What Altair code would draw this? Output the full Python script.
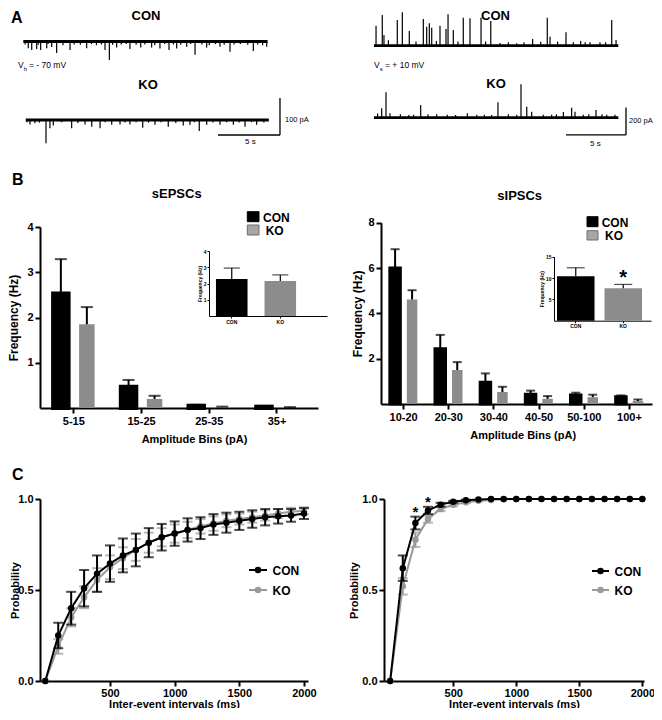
import altair as alt
import pandas as pd

FONT = "Liberation Sans"
GRAY_BAR = "#8c8c8c"
GRAY_LINE = "#9a9a9a"
GROUPS = ["CON", "KO"]
GROUP_COLORS = ["#000000", GRAY_BAR]

# ================= A : example recordings (event time in s, amplitude in pA) =================
epsc_con_t = [0.40, 0.68, 1.08, 1.40, 1.89, 2.29, 2.69, 3.77, 5.11, 6.59, 6.94, 7.53, 8.60,
              9.47, 10.35, 11.02, 11.75, 12.37, 13.18, 13.85, 14.79, 15.86, 16.67, 18.55, 19.63]
epsc_con_amp = [-18, -23, -20, -23, -18, -15, -31, -23, -18, -23, -50, -16, -20,
                -16, -16, -19, -23, -19, -14, -36, -16, -14, -28, -26, -14]
epsc_con_small_t = [0.15, 1.2, 2.0, 3.2, 4.1, 4.6, 5.5, 5.9, 6.3, 7.2, 7.9, 8.3, 9.1, 9.8,
                    10.6, 11.4, 12.1, 12.7, 13.5, 14.4, 15.0, 15.5, 16.2, 17.0, 17.5, 18.1, 18.9, 19.3]
epsc_con_small_amp = [-8, -9, -7, -10, -8, -9, -7, -10, -8, -9, -8, -7, -9, -8,
                      -10, -7, -8, -9, -7, -8, -10, -7, -9, -8, -7, -9, -8, -10]

epsc_ko_t = [0.54, 0.94, 1.83, 2.15, 2.42, 3.90, 4.98, 5.52, 6.19, 7.13, 7.80, 8.60, 9.63,
             10.62, 11.69, 12.90, 13.44, 14.19, 14.79, 15.86, 16.94, 17.88, 18.82]
epsc_ko_amp = [-12, -9, -63, -22, -15, -22, -12, -18, -22, -13, -12, -12, -21,
               -13, -18, -15, -13, -30, -13, -13, -13, -18, -13]
epsc_ko_small_t = [0.3, 1.3, 3.1, 4.4, 6.6, 8.2, 9.1, 10.1, 11.1, 12.3, 13.8, 15.3, 16.4, 17.4, 18.4, 19.4]
epsc_ko_small_amp = [-6, -7, -6, -8, -6, -7, -6, -7, -6, -8, -6, -7, -6, -7, -6, -7]

ipsc_con_t = [0.17, 0.69, 0.83, 1.94, 2.36, 2.94, 4.11, 4.39, 4.61, 4.81, 5.5, 6.0, 6.17, 6.61, 7.44,
              8.0, 8.92, 9.73, 11.89, 13.22, 13.89, 14.44, 14.67, 16.0, 16.61, 17.22, 18.0, 18.83, 19.81, 20.17]
ipsc_con_amp = [146, 224, 78, 188, 244, 107, 195, 139, 164, 131, 146, 122, 229, 115, 204,
                200, 204, 180, 18, 49, 29, 204, 66, 98, 25, 34, 25, 25, 188, 42]
ipsc_con_small_t = [1.2, 3.5, 5.2, 7.0, 9.3, 10.5, 11.2, 12.5, 15.3, 17.6, 19.3]
ipsc_con_small_amp = [40, 30, 35, 30, 30, 20, 25, 25, 30, 25, 25]

ipsc_ko_t = [0.64, 1.0, 1.33, 3.89, 5.22, 6.11, 7.78, 8.56, 10.33, 11.89, 12.25, 12.73, 13.14,
             14.11, 15.78, 16.47, 16.75, 17.44, 18.5, 19.39, 20.08]
ipsc_ko_amp = [69, 185, 32, 93, 25, 22, 32, 22, 112, 22, 244, 80, 44,
               22, 42, 73, 44, 22, 56, 22, 22]
ipsc_ko_small_t = [0.3, 2.2, 2.9, 3.3, 4.5, 6.8, 9.2, 9.8, 11.2, 14.8, 15.2, 17.9, 19.0]
ipsc_ko_small_amp = [30, 25, 20, 22, 25, 20, 22, 20, 25, 22, 25, 25, 25]

epsc_con_span = [0.0, 19.7]
epsc_ko_span = [0.2, 19.8]
ipsc_con_span = [0.0, 20.36]
ipsc_ko_span = [0.0, 20.36]
epsc_scalebar_s = [15.7, 20.7]      # 5 s
epsc_scalebar_pA = [-40.5, 59.5]    # 100 pA
ipsc_scalebar_s = [16.0, 21.0]      # 5 s
ipsc_scalebar_pA = [-126.0, 74.0]   # 200 pA

# ================= B : amplitude distributions =================
epsc_bins = ["5-15", "15-25", "25-35", "35+"]
epsc_con = [2.53, 0.47, 0.05, 0.03]
epsc_con_sem = [0.76, 0.15, 0.02, 0.01]
epsc_ko = [1.85, 0.20, 0.02, 0.01]
epsc_ko_sem = [0.38, 0.07, 0.01, 0.01]
epsc_total = [2.28, 2.16]
epsc_total_sem = [0.67, 0.37]
epsc_total_sig = []

ipsc_bins = ["10-20", "20-30", "30-40", "40-50", "50-100", "100+"]
ipsc_con = [6.0, 2.44, 0.96, 0.43, 0.40, 0.32]
ipsc_con_sem = [0.83, 0.61, 0.39, 0.16, 0.10, 0.06]
ipsc_ko = [4.61, 1.50, 0.53, 0.23, 0.30, 0.13]
ipsc_ko_sem = [0.41, 0.35, 0.23, 0.12, 0.11, 0.07]
ipsc_total = [10.4, 7.6]
ipsc_total_sem = [2.0, 0.9]
ipsc_total_sig = ["KO"]

# ================= C : cumulative inter-event intervals =================
iei_ms = [0, 100, 200, 300, 400, 500, 600, 700, 800, 900, 1000,
          1100, 1200, 1300, 1400, 1500, 1600, 1700, 1800, 1900, 2000]
cl_con = [0, 0.25, 0.40, 0.51, 0.59, 0.645, 0.69, 0.72, 0.76, 0.79, 0.81,
          0.83, 0.84, 0.86, 0.87, 0.88, 0.89, 0.90, 0.905, 0.91, 0.92]
cl_con_sem = [0, 0.07, 0.09, 0.10, 0.10, 0.10, 0.093, 0.09, 0.08, 0.073, 0.067,
              0.064, 0.06, 0.057, 0.055, 0.05, 0.048, 0.045, 0.04, 0.035, 0.03]
cl_ko = [0, 0.19, 0.35, 0.46, 0.555, 0.625, 0.675, 0.72, 0.76, 0.79, 0.81,
         0.83, 0.85, 0.865, 0.88, 0.89, 0.90, 0.91, 0.92, 0.93, 0.935]
cl_ko_sem = [0, 0.04, 0.05, 0.06, 0.065, 0.065, 0.06, 0.06, 0.055, 0.05, 0.05,
             0.045, 0.04, 0.04, 0.035, 0.03, 0.03, 0.028, 0.025, 0.022, 0.02]
cr_con = [0, 0.62, 0.868, 0.937, 0.969, 0.985, 0.993, 0.997, 1.0, 1.0, 1.0,
          1.0, 1.0, 1.0, 1.0, 1.0, 1.0, 1.0, 1.0, 1.0, 1.0]
cr_con_sem = [0, 0.07, 0.035, 0.02, 0.01, 0.005, 0.003, 0, 0, 0, 0,
              0, 0, 0, 0, 0, 0, 0, 0, 0, 0]
cr_ko = [0, 0.52, 0.776, 0.89, 0.945, 0.968, 0.982, 0.99, 0.995, 0.998, 1.0,
         1.0, 1.0, 1.0, 1.0, 1.0, 1.0, 1.0, 1.0, 1.0, 1.0]
cr_ko_sem = [0, 0.045, 0.04, 0.02, 0.012, 0.008, 0.005, 0.003, 0, 0, 0,
             0, 0, 0, 0, 0, 0, 0, 0, 0, 0]
cl_sig = []
cr_sig = [200, 300]


def txt(s, x, y, size, weight="bold", align="left", baseline="alphabetic"):
    return alt.Chart(pd.DataFrame({"s": [s]})).mark_text(
        font=FONT, fontSize=size, fontWeight=weight, align=align, baseline=baseline, color="black"
    ).encode(x=alt.value(x), y=alt.value(y), text="s:N")


def rect(x1, x2, y1, y2, fill, stroke):
    return alt.Chart(pd.DataFrame({"k": [0]})).mark_rect(fill=fill, stroke=stroke, strokeWidth=1).encode(
        x=alt.value(x1), x2=alt.value(x2), y=alt.value(y1), y2=alt.value(y2))


# ---------------- A cells ----------------
def trace_cell(con_t, con_amp, ko_t, ko_amp, con_span, ko_span, x_range, y_dom,
               con_rng, ko_rng, sb_s, sb_v, texts, width, height):
    xs = alt.Scale(domain=[0, 20], range=x_range, nice=False, zero=False)

    def ys(rng):
        return alt.Scale(domain=y_dom, range=rng, nice=False, zero=False)

    layers = []
    for t, amp, span, rng in [(con_t, con_amp, con_span, con_rng), (ko_t, ko_amp, ko_span, ko_rng)]:
        base = pd.DataFrame({"t0": [span[0]], "t1": [span[1]], "v": [0.0]})
        layers.append(alt.Chart(base).mark_rule(color="black", strokeWidth=2.8).encode(
            x=alt.X("t0:Q", scale=xs, axis=None), x2="t1:Q",
            y=alt.Y("v:Q", scale=ys(rng), axis=None)))
        ev = pd.DataFrame({"t": t, "amp": amp, "zero": [0.0] * len(t)})
        layers.append(alt.Chart(ev).mark_rule(color="black", strokeWidth=1.2).encode(
            x=alt.X("t:Q", scale=xs, axis=None),
            y=alt.Y("zero:Q", scale=ys(rng), axis=None), y2="amp:Q"))
    sb = pd.DataFrame({"x": [sb_s[0], sb_s[1]], "x2": [sb_s[1], sb_s[1]],
                       "y": [sb_v[0], sb_v[0]], "y2": [sb_v[0], sb_v[1]]})
    layers.append(alt.Chart(sb).mark_rule(color="black", strokeWidth=1.3).encode(
        x=alt.X("x:Q", scale=xs, axis=None), x2="x2:Q",
        y=alt.Y("y:Q", scale=ys(ko_rng), axis=None), y2="y2:Q"))
    layers += texts
    return alt.layer(*layers).resolve_scale(y="independent").properties(width=width, height=height)


a_left = trace_cell(
    epsc_con_t + epsc_con_small_t, epsc_con_amp + epsc_con_small_amp,
    epsc_ko_t + epsc_ko_small_t, epsc_ko_amp + epsc_ko_small_amp,
    epsc_con_span, epsc_ko_span, [-16.7, 231.3], [-100, 0],
    [70.5, 33.5], [149, 112], epsc_scalebar_s, epsc_scalebar_pA,
    [txt("A", -29, 1.5, 16, baseline="top"),
     txt("CON", 106, 1.5, 13, align="center", baseline="top"),
     txt("KO", 108, 71, 13, align="center", baseline="top"),
     txt("V", -22, 60, 8.5, weight="normal"),
     txt("h", -16.3, 62.5, 6, weight="normal"),
     txt("= - 70 mV", -11, 60, 8.5, weight="normal"),
     txt("100 pA", 245, 114, 7.5, weight="normal"),
     txt("5 s", 205, 136, 8, weight="normal")],
    285, 123)

a_right = trace_cell(
    ipsc_con_t + ipsc_con_small_t, ipsc_con_amp + ipsc_con_small_amp,
    ipsc_ko_t + ipsc_ko_small_t, ipsc_ko_amp + ipsc_ko_small_amp,
    ipsc_con_span, ipsc_ko_span, [-7, 233], [0, 200],
    [37.7, 10.3], [109.7, 82.3], ipsc_scalebar_s, ipsc_scalebar_pA,
    [txt("CON", 114.5, 1.5, 13, align="center", baseline="top"),
     txt("KO", 115, 70, 13, align="center", baseline="top"),
     txt("V", -7, 60, 8.5, weight="normal"),
     txt("s", -1.3, 62.5, 6, weight="normal"),
     txt("= + 10 mV", 4, 60, 8.5, weight="normal"),
     txt("200 pA", 248, 115, 7.5, weight="normal"),
     txt("5 s", 209, 138, 8, weight="normal")],
    265, 123)


# ---------------- B cells ----------------
def bar_cell(bins, con, con_sem, ko, ko_sem, ymax, y_range, yvals, x_po, x_al, off_pi, off_po,
             cap, con_stroke, x_axis_offset, xtitle_x, ytitle_x,
             tot, tot_sem, tot_sig, ix_range, ix_pi, ix_po, ix_al, iymax, iy_range, iyvals,
             ititle_x, icap, extra, width, height):
    rows = []
    for i, b in enumerate(bins):
        rows.append({"bin": b, "group": "CON", "val": con[i], "top": con[i] + con_sem[i]})
        rows.append({"bin": b, "group": "KO", "val": ko[i], "top": ko[i] + ko_sem[i]})
    df = pd.DataFrame(rows)
    xscale = alt.Scale(paddingInner=0, paddingOuter=x_po, align=x_al)
    xaxis = alt.Axis(orient="bottom", title="Amplitude Bins (pA)", labelAngle=0, offset=x_axis_offset,
                     titleX=xtitle_x, titlePadding=7)
    yscale = alt.Scale(domain=[0, ymax], range=y_range, nice=False)
    yaxis = alt.Axis(orient="left", values=yvals, format="d", title="Frequency (Hz)",
                     titleX=ytitle_x, titleFontSize=12)
    X = alt.X("bin:N", sort=bins, scale=xscale, axis=xaxis)
    XO = alt.XOffset("group:N", sort=GROUPS, scale=alt.Scale(paddingInner=off_pi, paddingOuter=off_po))
    color = alt.Color("group:N", scale=alt.Scale(domain=GROUPS, range=GROUP_COLORS), legend=None)
    bars = alt.Chart(df).mark_bar(stroke="black").encode(
        x=X, xOffset=XO, y=alt.Y("val:Q", scale=yscale, axis=yaxis), color=color,
        strokeWidth=alt.condition("datum.group == 'CON'", alt.value(con_stroke), alt.value(0)))
    err = alt.Chart(df).mark_rule(color="black", strokeWidth=2).encode(
        x=X, xOffset=XO, y=alt.Y("val:Q", scale=yscale, axis=yaxis), y2="top:Q")
    caps = alt.Chart(df).mark_tick(color="black", thickness=2, size=cap, orient="horizontal").encode(
        x=X, xOffset=XO, y=alt.Y("top:Q", scale=yscale, axis=yaxis))
    main = alt.layer(bars, err, caps)

    idf = pd.DataFrame({"group": GROUPS, "val": tot, "top": [v + s for v, s in zip(tot, tot_sem)]})
    ixs = alt.Scale(range=ix_range, paddingInner=ix_pi, paddingOuter=ix_po, align=ix_al)
    ixa = alt.Axis(orient="bottom", offset=iy_range[0] - height, title=None, labelAngle=0,
                   labelFontSize=5, labelPadding=1, tickSize=2, tickWidth=1, domainWidth=1)
    iys = alt.Scale(domain=[0, iymax], range=iy_range, nice=False)
    iya = alt.Axis(orient="left", offset=-ix_range[0], values=iyvals, format="d", title="Frequency (Hz)",
                   titleFontSize=5, titleX=ititle_x, labelFontSize=5, labelPadding=1,
                   tickSize=2, tickWidth=1, domainWidth=1)
    IX = alt.X("group:N", sort=GROUPS, scale=ixs, axis=ixa)
    ibars = alt.Chart(idf).mark_bar().encode(
        x=IX, y=alt.Y("val:Q", scale=iys, axis=iya), color=color)
    ierr = alt.Chart(idf).mark_rule(color="black", strokeWidth=1.2).encode(
        x=IX, y=alt.Y("val:Q", scale=iys, axis=iya), y2="top:Q")
    icaps = alt.Chart(idf).mark_tick(color="black", thickness=1.2, size=icap, orient="horizontal").encode(
        x=IX, y=alt.Y("top:Q", scale=iys, axis=iya))
    ilayers = [ibars, ierr, icaps]
    if tot_sig:
        sdf = idf[idf["group"].isin(tot_sig)]
        ilayers.append(alt.Chart(sdf).mark_text(text="*", font=FONT, fontSize=20, fontWeight="bold",
                                                baseline="alphabetic", color="black").encode(
            x=IX, y=alt.Y("top:Q", scale=iys, axis=iya)))
    inset = alt.layer(*ilayers)
    return alt.layer(main, inset, *extra).resolve_scale(x="independent", y="independent").properties(
        width=width, height=height)


b_left = bar_cell(
    epsc_bins, epsc_con, epsc_con_sem, epsc_ko, epsc_ko_sem, 4, [186, 5], [1, 2, 3, 4],
    0.053, 0, 0.404, 0.504, 12, 4, 0, 154, -20,
    epsc_total, epsc_total_sem, epsc_total_sig, [169, 287], 0.35, 0.39, 0.184, 4, [94, 29], [1, 2, 3, 4],
    -7, 16,
    [txt("B", -28, -37.5, 16),
     txt("sEPSCs", 136.7, -24, 13, align="center"),
     rect(207.3, 219, -10.3, -0.3, "#000000", "#000000"),
     rect(207.3, 219, 3, 13, "#a6a6a6", "#6e6e6e"),
     txt(GROUPS[0], 223, -0.5, 12),
     txt(GROUPS[1], 225.7, 13, 12)],
    278, 186)

b_right = bar_cell(
    ipsc_bins, ipsc_con, ipsc_con_sem, ipsc_ko, ipsc_ko_sem, 8, [182, 0.7], [2, 4, 6, 8],
    0, 0.5, 0.382, 0.52, 9, 3, -4, 141.7, -17,
    ipsc_total, ipsc_total_sem, ipsc_total_sig, [173, 270], 0.21, 0.126, 0.25, 15, [98.7, 34.7], [5, 10, 15],
    -10, 18,
    [txt("sIPSCs", 138.7, -22, 13, align="center"),
     rect(206, 217, -5.3, 4.7, "#000000", "#000000"),
     rect(206, 217, 8.7, 18, "#a6a6a6", "#6e6e6e"),
     txt(GROUPS[0], 220.7, 4.7, 12),
     txt(GROUPS[1], 224, 18, 12)],
    271, 186)


# ---------------- C cells ----------------
def cdf_cell(con, con_sem, ko, ko_sem, sig, x_dom, x_range, y_axis_offset, ytitle_x,
             leg_x, leg_y, extra, width, height):
    xs = alt.Scale(domain=x_dom, range=x_range, nice=False, zero=False)
    xa = alt.Axis(orient="bottom", values=[500, 1000, 1500, 2000], format="d",
                  title="Inter-event intervals (ms)", labelPadding=1, titlePadding=0)
    ysc = alt.Scale(domain=[0, 1], nice=False)
    ya = alt.Axis(orient="left", values=[0, 0.5, 1], format=".1f", title="Probability",
                  titleX=ytitle_x, offset=y_axis_offset)

    def X():
        return alt.X("iei:Q", scale=xs, axis=xa)

    def Y(f):
        return alt.Y(f + ":Q", scale=ysc, axis=ya)

    layers = []
    for vals, sems, col in [(ko, ko_sem, GRAY_LINE), (con, con_sem, "#000000")]:
        d = pd.DataFrame({"iei": iei_ms, "val": vals, "sem": sems})
        d["lo"] = d["val"] - d["sem"]
        d["hi"] = d["val"] + d["sem"]
        e = d[d["sem"] > 0]
        layers.append(alt.Chart(e).mark_rule(color=col, strokeWidth=2).encode(x=X(), y=Y("lo"), y2="hi:Q"))
        layers.append(alt.Chart(e).mark_tick(color=col, thickness=2, size=10, orient="horizontal").encode(
            x=X(), y=Y("lo")))
        layers.append(alt.Chart(e).mark_tick(color=col, thickness=2, size=10, orient="horizontal").encode(
            x=X(), y=Y("hi")))
        layers.append(alt.Chart(d).mark_line(color=col, strokeWidth=2).encode(x=X(), y=Y("val")))
        layers.append(alt.Chart(d).mark_circle(color=col, size=42, opacity=1).encode(x=X(), y=Y("val")))
    if sig:
        d = pd.DataFrame({"iei": iei_ms, "top": [v + s for v, s in zip(con, con_sem)]})
        d = d[d["iei"].isin(sig)]
        layers.append(alt.Chart(d).mark_text(text="*", font=FONT, fontSize=15, fontWeight="bold",
                                             baseline="alphabetic", color="black").encode(x=X(), y=Y("top")))
    for name, col, yy in [(GROUPS[0], "#000000", leg_y[0]), (GROUPS[1], GRAY_LINE, leg_y[1])]:
        kd = pd.DataFrame({"k": [0]})
        layers.append(alt.Chart(kd).mark_rule(color=col, strokeWidth=2).encode(
            x=alt.value(leg_x[0]), x2=alt.value(leg_x[1]), y=alt.value(yy)))
        layers.append(alt.Chart(kd).mark_circle(color=col, size=42, opacity=1).encode(
            x=alt.value((leg_x[0] + leg_x[1]) / 2), y=alt.value(yy)))
        layers.append(txt(name, leg_x[1] + 5.5, yy + 4.5, 12))
    layers += extra
    return alt.layer(*layers).properties(width=width, height=height)


c_left = cdf_cell(cl_con, cl_con_sem, cl_ko, cl_ko_sem, cl_sig, [-41, 2031], [0, 268], 0, -20,
                  [209, 227], [71, 91], [txt("C", -28, -19.5, 16)], 268, 182)
c_right = cdf_cell(cr_con, cr_con_sem, cr_ko, cr_ko_sem, cr_sig, [-49, 2013], [3, 263], -3, -25,
                   [211, 228], [72, 91], [], 263, 182)

chart = alt.concat(
    a_left, a_right, b_left, b_right, c_left, c_right,
    columns=2, spacing={"row": 91, "column": 56}, bounds="flush", align="each",
).resolve_scale(xOffset="independent").properties(
    autosize=alt.AutoSizeParams(type="none"),
    padding={"left": 32, "top": 0, "right": 614, "bottom": 700}
).configure(font=FONT).configure_view(stroke=None).configure_axis(
    grid=False, domainColor="black", domainWidth=2, tickColor="black", tickWidth=2, tickSize=5,
    labelColor="black", labelFont=FONT, labelFontSize=11, labelFontWeight="bold", labelPadding=2,
    titleColor="black", titleFont=FONT, titleFontSize=11, titleFontWeight="bold"
)

chart.save("out.html", embed_options={"renderer": "svg", "actions": False})
